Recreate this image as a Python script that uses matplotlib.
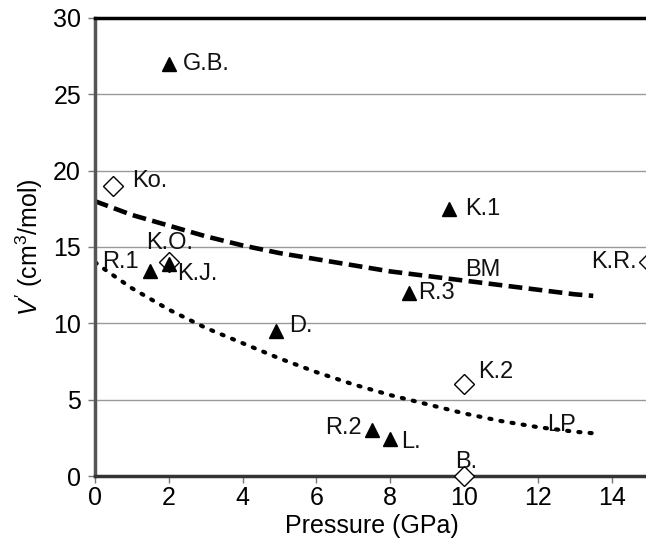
import numpy as np
import matplotlib.pyplot as plt

plt.rcParams['font.family'] = ['Liberation Sans', 'DejaVu Sans']
plt.rcParams['mathtext.fontset'] = 'custom'
plt.rcParams['mathtext.rm'] = 'Liberation Sans'
plt.rcParams['mathtext.it'] = 'Liberation Sans:italic'

tri_names = ['G.B.', 'K.1', 'R.1', 'K.J.', 'R.3', 'D.', 'R.2', 'L.']
tri_p = [2.0, 9.6, 1.5, 2.0, 8.5, 4.9, 7.5, 8.0]
tri_v = [27.0, 17.5, 13.4, 13.9, 12.0, 9.5, 3.0, 2.4]

dia_names = ['Ko.', 'K.O.', 'K.R.', 'K.2', 'B.']
dia_p = [0.5, 2.0, 15.0, 10.0, 10.0]
dia_v = [19.0, 14.0, 14.0, 6.0, 0.0]

# BM 曲线（虚线）
bm_p = [0, 1, 2, 3, 4, 5, 6, 7, 8, 9, 10, 11, 12, 13, 13.5]
bm_v = [18.0, 17.1, 16.4, 15.7, 15.1, 14.6, 14.2, 13.8, 13.4, 13.1, 12.8, 12.5, 12.2, 11.9, 11.8]

# LP 曲线（点线）
lp_p = [0.0, 0.4, 1, 2, 3, 4, 5, 6, 7, 8, 9, 10, 11, 12, 13, 13.5]
lp_v = [14.0, 13.3, 12.3, 10.9, 9.7, 8.7, 7.7, 6.8, 6.0, 5.3, 4.7, 4.1, 3.6, 3.2, 2.9, 2.8]

# 标签偏移（像素）
label_style = {
    'G.B.': ((14, 0), 'left'), 'K.1': ((16, 0), 'left'), 'R.1': ((-12, 9), 'right'),
    'K.J.': ((8, -10), 'left'), 'R.3': ((9, 0), 'left'), 'D.': ((13, 5), 'left'),
    'R.2': ((-10, 2), 'right'), 'L.': ((11, -3), 'left'),
    'Ko.': ((19, 5), 'left'), 'K.O.': ((1, 19), 'center'), 'K.R.': ((-12, 0), 'right'),
    'K.2': ((14, 12), 'left'), 'B.': ((2, 14), 'center'),
}

fig = plt.figure(figsize=(6.46, 5.44), dpi=100)
ax = fig.add_axes([0.147, 0.125, 0.857, 0.842])

ax.plot(bm_p, bm_v, color='black', linestyle=(0, (3, 1.4)), linewidth=3.3)
ax.plot(lp_p, lp_v, color='black', linestyle=(0, (0.5, 2.2)), linewidth=3.0,
        dash_capstyle='round')

ax.plot(tri_p, tri_v, linestyle='none', marker='^', markersize=10,
        color='black', clip_on=False, zorder=5)
ax.plot(dia_p, dia_v, linestyle='none', marker='D', markersize=10,
        markerfacecolor='white', markeredgecolor='black', markeredgewidth=1.0,
        clip_on=False, zorder=4)

for names, ps, vs in [(tri_names, tri_p, tri_v), (dia_names, dia_p, dia_v)]:
    for n, p, v in zip(names, ps, vs):
        off, ha = label_style[n]
        ax.annotate(n, (p, v), xytext=off, textcoords='offset pixels',
                    ha=ha, va='center', fontsize=17, color='#111111', zorder=6)

ax.text(10.03, 13.5, 'BM', fontsize=17, ha='left', va='center', color='#111111')
ax.text(12.25, 3.34, 'LP', fontsize=17, ha='left', va='center', color='#111111')

ax.set_xlim(0, 15)
ax.set_ylim(0, 30)
ax.set_xticks(np.arange(0, 15, 2))
ax.set_yticks(np.arange(0, 31, 5))
ax.yaxis.grid(True, color='#999999', linewidth=1.0)
ax.set_axisbelow(True)

ax.tick_params(axis='both', labelsize=18, length=5, width=1, color='#777777',
               direction='out')
ax.tick_params(axis='x', pad=2)
ax.tick_params(axis='y', pad=5)
ax.spines['top'].set_linewidth(2.5)
ax.spines['top'].set_color('black')
ax.spines['left'].set_linewidth(2.5)
ax.spines['left'].set_color('#555555')
ax.spines['bottom'].set_linewidth(2.5)
ax.spines['bottom'].set_color('#333333')
ax.spines['right'].set_visible(False)

ax.set_xlabel('Pressure (GPa)', fontsize=18, labelpad=3)
ax.set_ylabel(r"$V'$ (cm$^{3}$/mol)", fontsize=18, labelpad=6)

fig.savefig('out.png', dpi=100)
